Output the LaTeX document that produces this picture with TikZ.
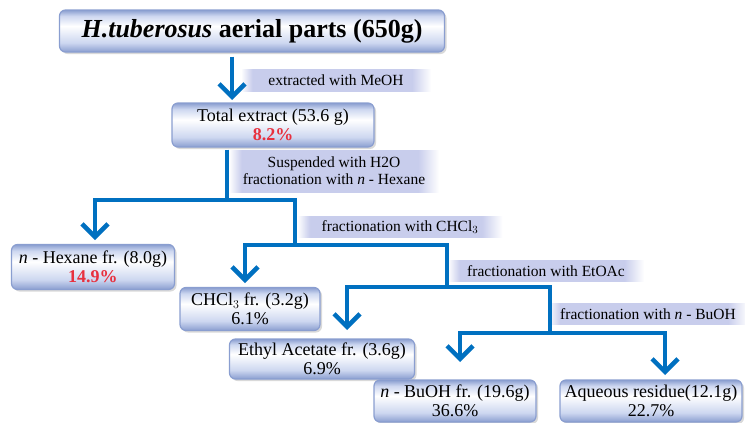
\documentclass[tikz,border=0pt]{standalone}
\usepackage{fontspec}
\setmainfont{Liberation Serif}
\usetikzlibrary{arrows.meta, shadows}

\definecolor{flowblue}{RGB}{0,112,192}
\definecolor{boxblue}{RGB}{138,158,208}
\definecolor{boxlight}{RGB}{205,215,240}
\definecolor{bandblue}{RGB}{200,205,236}
\definecolor{pctred}{RGB}{232,48,62}

% fading band behind the step labels
\pgfdeclarehorizontalshading{bandfade}{100bp}{color(0bp)=(white); color(25bp)=(white);
  color(28bp)=(bandblue); color(70bp)=(bandblue); color(75bp)=(white); color(100bp)=(white)}
% soft glow inside the fraction boxes
\pgfdeclareverticalshading{boxglow}{100bp}{color(0bp)=(boxblue); color(25bp)=(boxblue);
  color(36bp)=(boxlight); color(56bp)=(white); color(68bp)=(boxlight); color(75bp)=(boxblue); color(100bp)=(boxblue)}

\begin{document}
\begin{tikzpicture}[
		x=1pt,
		y=-1pt,
		font=\fontsize{18}{19}\selectfont,
		fraction/.style={draw=boxblue, line width=1.2pt, rounded corners=6pt, shading=boxglow,
			drop shadow={shadow xshift=2pt, shadow yshift=-2pt, opacity=0.3},
			align=center, inner sep=2pt},
		band/.style={shading=bandfade, align=center, inner sep=1pt,
			font=\fontsize{15.5}{17}\selectfont},
		flow/.style={draw=flowblue, line width=4.5pt},
		flowarrow/.style={flow, -{Straight Barb[length=13pt, width=26pt]}}
		]
		\useasboundingbox (0,0) rectangle (745,423);
		
		% Fractions
		\node[fraction, minimum width=385pt, minimum height=42pt,
			font=\fontsize{26}{28}\selectfont\bfseries] (plant) at (252,31)
			{\textit{H.tuberosus} aerial parts (650g)};
		\node[fraction, minimum width=202pt, minimum height=44pt] (total) at (273,125)
			{Total extract (53.6 g)\\ \textcolor{pctred}{\textbf{8.2\%}}};
		\node[fraction, minimum width=163pt, minimum height=45pt] (hexane) at (93,267)
			{\textit{n} - Hexane fr. (8.0g)\\ \textcolor{pctred}{\textbf{14.9\%}}};
		\node[fraction, minimum width=140pt, minimum height=43pt] (chcl) at (250,309)
			{CHCl$_3$ fr. (3.2g)\\ 6.1\%};
		\node[fraction, minimum width=185pt, minimum height=40pt] (ethyl) at (322,359)
			{Ethyl Acetate fr. (3.6g)\\ 6.9\%};
		\node[fraction, minimum width=162pt, minimum height=42pt] (buoh) at (455,401)
			{\textit{n} - BuOH fr. (19.6g)\\ 36.6\%};
		\node[fraction, minimum width=182pt, minimum height=42pt] (aqueous) at (651,401)
			{Aqueous residue(12.1g)\\ 22.7\%};
		
		% Step labels
		\node[band, minimum width=190pt, minimum height=22pt] (meoh) at (336,80)
			{extracted with MeOH};
		\node[band, minimum width=210pt, minimum height=42pt] (hexstep) at (334,171)
			{Suspended with H2O\\ fractionation with \textit{n} - Hexane};
		\node[band, minimum width=205pt, minimum height=21pt] (chclstep) at (400,227)
			{fractionation with CHCl$_3$};
		\node[band, minimum width=196pt, minimum height=21pt] (etoacstep) at (546,271)
			{fractionation with EtOAc};
		\node[band, minimum width=200pt, minimum height=21pt] (buohstep) at (648,314)
			{fractionation with \textit{n} - BuOH};
		
		% Split points and arrow tips
		\coordinate (s1) at (227,200);
		\coordinate (s2) at (295,245);
		\coordinate (s3) at (447,287);
		\coordinate (s4) at (550,333);
		\coordinate (t0) at (232,100);
		\coordinate (t1) at (95,240);
		\coordinate (t2) at (245,283);
		\coordinate (t3) at (347,330);
		\coordinate (t4) at (460,362);
		\coordinate (t5) at (665,375);
		
		% Flow
		\draw[flowarrow, shorten <=4pt] (plant.south -| t0) -- (t0);
		\draw[flow, shorten <=2pt] (total.south -| s1) -- (s1);
		\draw[flowarrow] (s1) -| (t1);
		\draw[flow] (s1) -| (s2);
		\draw[flowarrow] (s2) -| (t2);
		\draw[flow] (s2) -| (s3);
		\draw[flowarrow] (s3) -| (t3);
		\draw[flow] (s3) -| (s4);
		\draw[flowarrow] (s4) -| (t4);
		\draw[flowarrow] (s4) -| (t5);
		
	\end{tikzpicture}
\end{document}
